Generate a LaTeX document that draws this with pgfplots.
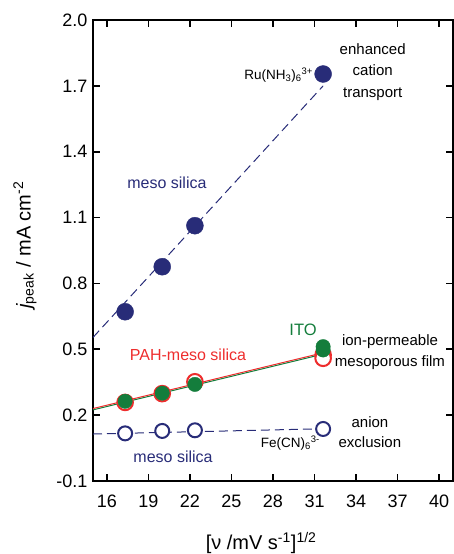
\documentclass[border=0pt]{standalone}
\usepackage{fontspec}
\setmainfont{Liberation Sans}
\usepackage{pgfplots}
\pgfplotsset{compat=1.18}
\definecolor{navy}{RGB}{40,44,120}
\definecolor{myred}{RGB}{238,45,45}
\definecolor{mygreen}{RGB}{20,125,60}
\begin{document}
\begin{tikzpicture}
\begin{axis}[
 at={(0,0)}, anchor=south west,
 scale only axis, width=360pt, height=461pt,
 xmin=15, xmax=41, ymin=-0.1, ymax=2.0,
 xtick={16,19,22,25,28,31,34,37,40},
 ytick={-0.1,0.2,0.5,0.8,1.1,1.4,1.7,2.0},
 yticklabels={-0.1,0.2,0.5,0.8,1.1,1.4,1.7,2.0},
 xticklabels={16,19,22,25,28,31,34,37,40},
 tick align=inside, major tick length=7pt,
 tick style={line width=1.6pt, black},
 axis line style={line width=1.8pt},
 ticklabel style={font=\fontsize{18}{20}\selectfont},
 xticklabel style={yshift=-10pt},
 yticklabel style={xshift=-2pt},
 clip=false,
 xlabel={[ν /mV s\textsuperscript{-1}]\textsuperscript{1/2}},
 ylabel={{\itshape j}\textsubscript{peak} / mA cm\textsuperscript{-2}},
 xlabel style={at={(axis description cs:0.467,-0.1345)}, anchor=center, font=\fontsize{20}{22}\selectfont},
 ylabel style={at={(axis description cs:-0.189,0.512)}, anchor=center, font=\fontsize{20}{22}\selectfont},
]
% fit lines
\addplot[navy, line width=1pt, dash pattern=on 9pt off 5pt] coordinates {(15,0.554) (31.62,1.70)};
\addplot[navy, line width=1pt, dash pattern=on 9pt off 5pt] coordinates {(15,0.114) (31.62,0.138)};
\addplot[mygreen, line width=1pt] coordinates {(15,0.224) (31.62,0.478)};
\addplot[myred, line width=1pt] coordinates {(15,0.230) (31.62,0.484)};
% Ru(NH3)6 3+ on meso silica
\addplot[only marks, mark=*, mark size=8.5pt, mark options={draw=navy, fill=navy}] coordinates {(17.32,0.671) (20,0.876) (22.36,1.063) (31.62,1.754)};
% Fe(CN)6 3- on meso silica
\addplot[only marks, mark=*, mark size=7pt, mark options={draw=navy, fill=white, line width=2pt}] coordinates {(17.32,0.117) (20,0.128) (22.36,0.131) (31.62,0.137)};
% PAH-meso silica
\addplot[only marks, mark=*, mark size=7.8pt, mark options={draw=myred, fill=white, line width=2pt}] coordinates {(17.32,0.258) (20,0.298) (22.36,0.352) (31.62,0.474) (31.62,0.459)};
% ITO
\addplot[only marks, mark=*, mark size=7.2pt, mark options={draw=mygreen, fill=mygreen}] coordinates {(17.32,0.263) (20,0.300) (22.36,0.340) (31.62,0.512) (31.62,0.497)};
% annotations
\node[align=center, font=\fontsize{15}{21.5}\selectfont] at (axis cs:35.2,1.763) {enhanced\\cation\\transport};
\node[anchor=east, font=\fontsize{13.5}{15}\selectfont, inner sep=0pt] at (axis cs:30.9,1.75) {Ru(NH\textsubscript{3})\textsubscript{6}\textsuperscript{3+}};
\node[text=navy, font=\fontsize{16}{18}\selectfont] at (axis cs:20.34,1.257) {meso silica};
\node[text=mygreen, font=\fontsize{16.5}{18}\selectfont] at (axis cs:30.17,0.588) {ITO};
\node[align=center, font=\fontsize{15}{21.5}\selectfont] at (axis cs:36.45,0.488) {ion-permeable\\mesoporous film};
\node[text=myred, font=\fontsize{16}{18}\selectfont] at (axis cs:21.86,0.474) {PAH-meso silica};
\node[align=center, font=\fontsize{15}{20}\selectfont] at (axis cs:35.0,0.123) {anion\\exclusion};
\node[anchor=east, font=\fontsize{13.5}{15}\selectfont, inner sep=0pt] at (axis cs:31.4,0.073) {Fe(CN)\textsubscript{6}\textsuperscript{3-}};
\node[text=navy, font=\fontsize{16}{18}\selectfont] at (axis cs:20.78,0.009) {meso silica};
\end{axis}
\pgfresetboundingbox
\path[use as bounding box] (-93pt,-73pt) rectangle (361pt,481pt);
\end{tikzpicture}
\end{document}
